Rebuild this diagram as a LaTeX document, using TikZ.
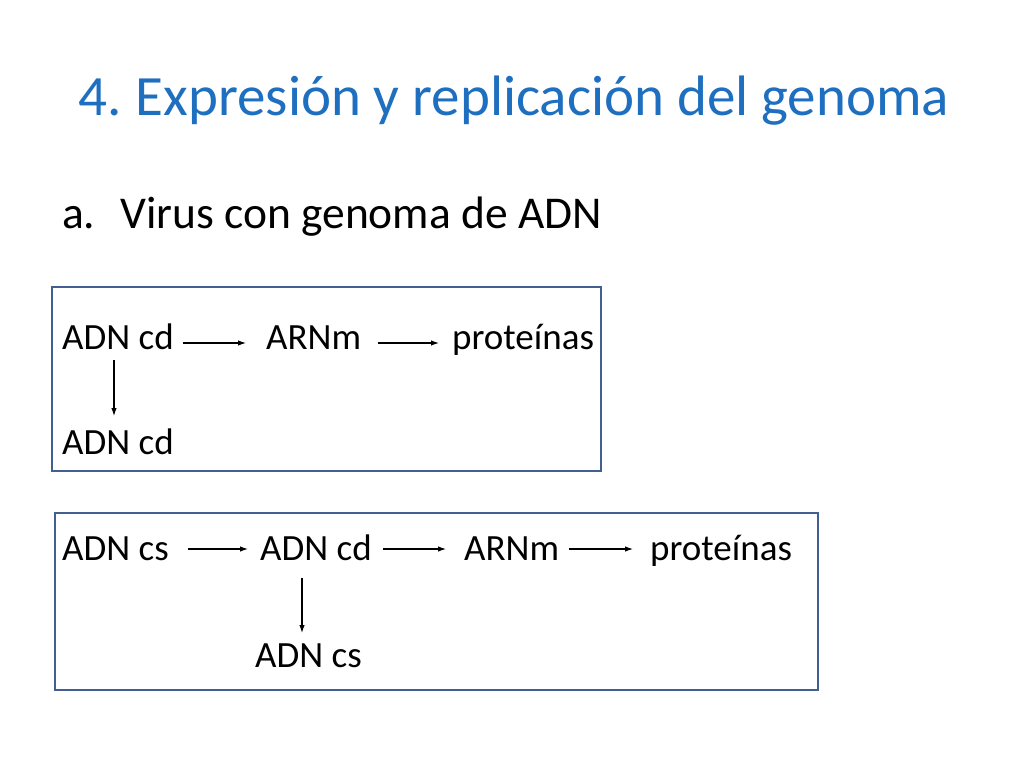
\documentclass[tikz,border=0pt]{standalone}
\usepackage{fontspec}
\setmainfont{Carlito}
\usetikzlibrary{arrows.meta}
\definecolor{titleblue}{HTML}{1F6FC0}
\definecolor{boxblue}{HTML}{41608F}
\begin{document}
\begin{tikzpicture}[x=1pt,y=-1pt,
  lbl/.style={anchor=base west,inner sep=0pt,font=\fontsize{37}{42}\selectfont},
  box/.style={draw=boxblue,line width=2.5pt},
  arr/.style={-{Latex[length=8pt,width=5.5pt]},line width=1.1pt}]
\useasboundingbox (0,0) rectangle (1024,768);
\fill[white] (0,0) rectangle (1024,768);
\node[anchor=base west,inner sep=0pt,text=titleblue,font=\fontsize{57}{64}\selectfont] (title) at (78,115) {4.\hspace{-0.05em} Expresión y replicación del genoma};
\node[anchor=base west,inner sep=0pt,font=\fontsize{45.5}{52}\selectfont] (sublet) at (62,228) {a.};
\node[anchor=base west,inner sep=0pt,font=\fontsize{45.5}{52}\selectfont] (sub) at (120,228) {Virus con genoma de ADN};
% box 1
\draw[box] (52,287) rectangle (601,471);
\node[lbl] (a1) at (62,349) {ADN cd};
\node[lbl] (a2) at (266,349) {ARNm};
\node[lbl] (a3) at (452,349) {proteínas};
\node[lbl] (a4) at (62,454) {ADN cd};
\coordinate (p1s) at (183,343); \coordinate (p1e) at (246,343);
\coordinate (p2s) at (378,343); \coordinate (p2e) at (439,343);
\coordinate (p3s) at (114,360); \coordinate (p3e) at (114,416);
\draw[arr] (p1s) -- (p1e);
\draw[arr] (p2s) -- (p2e);
\draw[arr] (p3s) -- (p3e);
% box 2
\draw[box] (55,513) rectangle (818,690);
\node[lbl] (b1) at (62,560) {ADN cs};
\node[lbl] (b2) at (260,560) {ADN cd};
\node[lbl] (b3) at (464,560) {ARNm};
\node[lbl] (b4) at (650,560) {proteínas};
\node[lbl] (b5) at (255,667) {ADN cs};
\coordinate (q1s) at (188,549); \coordinate (q1e) at (248,549);
\coordinate (q2s) at (383,549); \coordinate (q2e) at (446,549);
\coordinate (q3s) at (569,549); \coordinate (q3e) at (633,549);
\coordinate (q4s) at (302,578); \coordinate (q4e) at (302,633);
\draw[arr] (q1s) -- (q1e);
\draw[arr] (q2s) -- (q2e);
\draw[arr] (q3s) -- (q3e);
\draw[arr] (q4s) -- (q4e);
\end{tikzpicture}
\end{document}
